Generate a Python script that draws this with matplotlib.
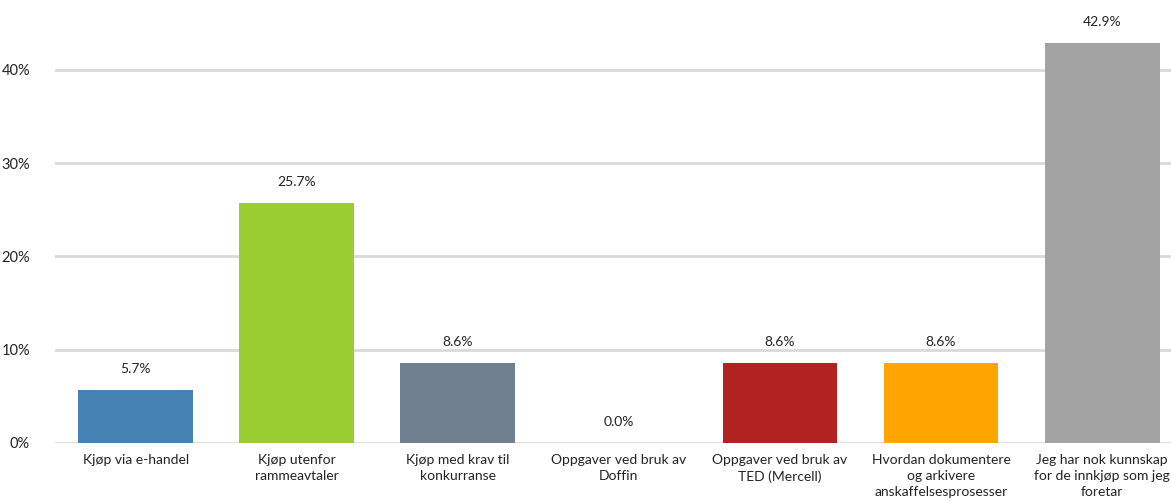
import matplotlib.pyplot as plt
from matplotlib.ticker import FuncFormatter

kategorier = [
    "Kjøp via e-handel",
    "Kjøp utenfor\nrammeavtaler",
    "Kjøp med krav til\nkonkurranse",
    "Oppgaver ved bruk av\nDoffin",
    "Oppgaver ved bruk av\nTED (Mercell)",
    "Hvordan dokumentere\nog arkivere\nanskaffelsesprosesser",
    "Jeg har nok kunnskap\nfor de innkjøp som jeg\nforetar",
]
andel = [5.7, 25.7, 8.6, 0.0, 8.6, 8.6, 42.9]
farger = ["#4682B4", "#9ACD32", "#708090", "#FFFFFF", "#B22222", "#FFA500", "#A3A3A3"]

plt.rcParams["font.family"] = ["Lato", "DejaVu Sans"]

fig = plt.figure(figsize=(11.71, 5.01), dpi=100)
# aksene går litt forbi høyre kant, slik at siste stolpe får plass
ax = fig.add_axes([0.047, 0.1158, 0.963, 0.8842])

x = range(len(kategorier))
ax.bar(x, andel, width=0.713, color=farger, zorder=3)
for i, v in enumerate(andel):
    ax.text(i, v + 1.6, f"{v:.1f}%", ha="center", va="bottom", fontsize=10, color="#222222")

ax.set_xlim(-0.5, len(kategorier) - 0.5)
ax.set_ylim(0, 47.5)
ax.set_yticks([0, 10, 20, 30, 40])
ax.yaxis.set_major_formatter(FuncFormatter(lambda v, p: f"{v:.0f}%"))
ax.set_xticks(list(x))
ax.set_xticklabels(kategorier, fontsize=10, linespacing=1.4, va="top")
ax.grid(axis="y", color="#D9D9D9", linewidth=2, zorder=0)
for s in ax.spines.values():
    s.set_visible(False)
ax.tick_params(axis="y", length=0, labelsize=10.5, colors="#222222", pad=18)
ax.tick_params(axis="x", length=0, colors="#222222", pad=8)

fig.savefig("out.png", dpi=100)
